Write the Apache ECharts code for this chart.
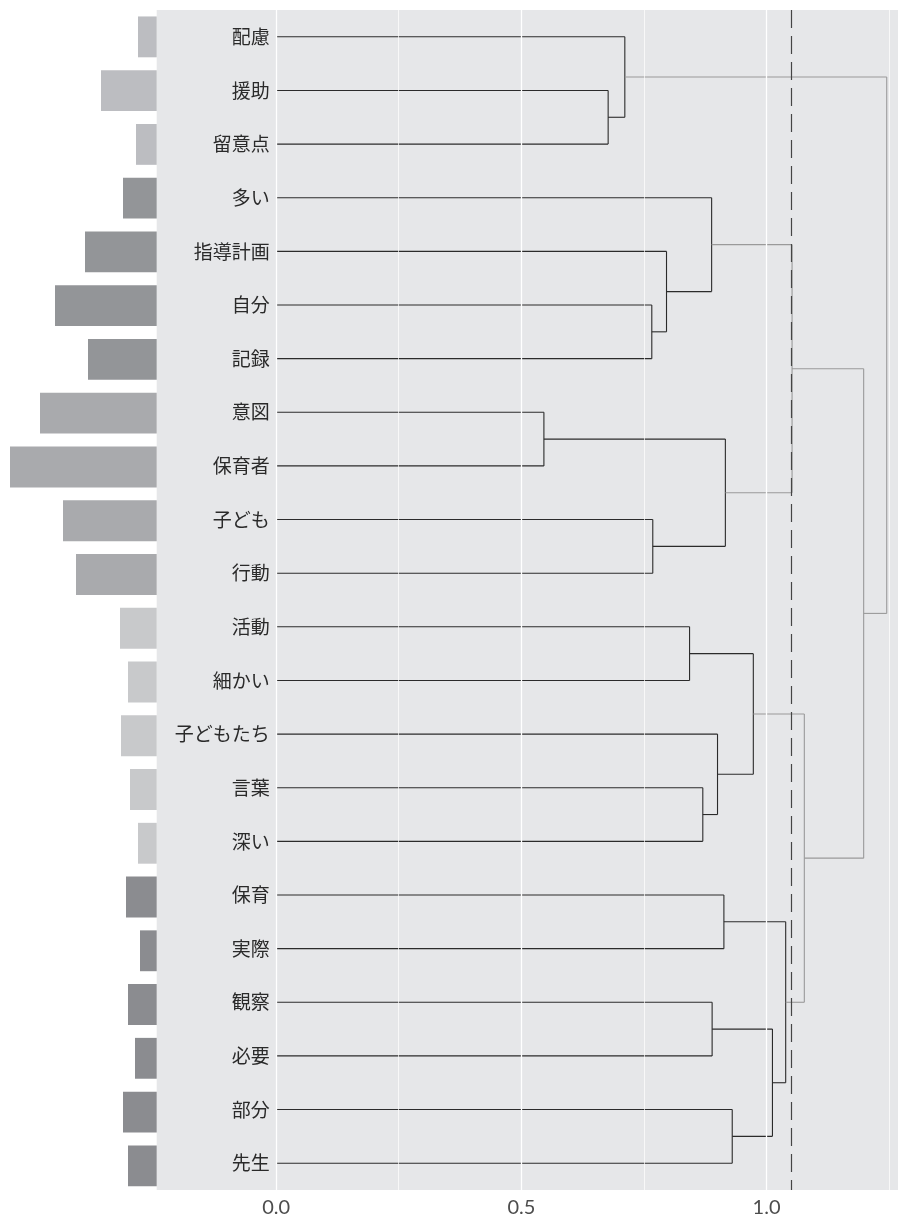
<!DOCTYPE html>
<html>
<head>
<meta charset="utf-8">
<script src="https://cdn.jsdelivr.net/npm/echarts@6/dist/echarts.min.js"></script>
<style>html,body{margin:0;padding:0;background:#fff;}</style>
</head>
<body>
<div id="main" style="width:898px;height:1218px;"></div>
<script type="text/javascript">

// 単語（上から順）
var words = ['配慮', '援助', '留意点', '多い', '指導計画', '自分', '記録', '意図', '保育者', '子ども', '行動',
    '活動', '細かい', '子どもたち', '言葉', '深い', '保育', '実際', '観察', '必要', '部分', '先生'];
// 左の棒（出現頻度の相対値）
var freq = [18.7, 55.7, 20.7, 33.7, 71.7, 101.7, 68.7, 116.7, 146.7, 93.7, 80.7,
    36.7, 28.7, 35.7, 26.7, 18.7, 30.7, 16.7, 28.7, 21.7, 33.7, 28.7];
// クラスター番号
var cluster = [0, 0, 0, 1, 1, 1, 1, 2, 2, 2, 2, 3, 3, 3, 3, 3, 4, 4, 4, 4, 4, 4];
var clusterColors = ['#bcbdc1', '#939598', '#a9aaad', '#c8c9cb', '#8b8c90'];

// hclust形式の併合: 負 = 単語(1始まり), 正 = それ以前の併合番号
var mergeA = [-8, -2, -1, -6, -10, -5, -12, -15, -4, -19, -14, -17, 1, -21, 7, 10, 12, 9, 15, 18, 3];
var mergeB = [-9, -3, 2, -7, -11, 4, -13, -16, 6, -20, 8, -18, 5, -22, 11, 14, 16, 13, 17, 19, 20];
var mergeHeight = [0.546, 0.677, 0.711, 0.766, 0.768, 0.796, 0.843, 0.870, 0.888, 0.889, 0.900,
    0.913, 0.916, 0.930, 0.973, 1.012, 1.039, 1.052, 1.077, 1.198, 1.245];

var cutHeight = 1.046;
var tickLabels = [0, 0.5, 1];
var minorGrid = [0.25, 0.75, 1.25];

var myChart = echarts.init(document.getElementById('main'));

// 樹形図の線分を併合データから組み立てる
var nodeX = [], nodeY = [];
function pos(id) {
    if (id < 0) return [0, -id - 1];
    return [nodeX[id - 1], nodeY[id - 1]];
}
var segs = [];
for (var i = 0; i < mergeHeight.length; i++) {
    var a = pos(mergeA[i]), b = pos(mergeB[i]), h = mergeHeight[i];
    var grey = h > cutHeight ? 1 : 0;
    segs.push([a[0], a[1], h, a[1], grey]);
    segs.push([b[0], b[1], h, b[1], grey]);
    segs.push([h, a[1], h, b[1], grey]);
    nodeX.push(h);
    nodeY.push((a[1] + b[1]) / 2);
}

var barData = [];
for (var j = 0; j < freq.length; j++) {
    barData.push({value: freq[j], itemStyle: {color: clusterColors[cluster[j]]}});
}
var labelData = words.map(function (w, k) { return [-0.013, k]; });

var gridLines = [];
tickLabels.forEach(function (v) { gridLines.push({xAxis: v, lineStyle: {width: 1.3}}); });
minorGrid.forEach(function (v) { gridLines.push({xAxis: v, lineStyle: {width: 0.7}}); });

var option = {
    animation: false,
    grid: [
        {left: 0, width: 156.7, top: 10, bottom: 25.3, show: false},
        {left: 156.7, right: 0, top: 10, bottom: 25.3, show: true, backgroundColor: '#e6e7e9', borderWidth: 0}
    ],
    xAxis: [
        {gridIndex: 0, type: 'value', inverse: true, min: 0, max: 156.7, show: false},
        {
            gridIndex: 1, type: 'value', min: -0.2435, max: 1.268,
            axisLine: {show: false}, axisTick: {show: false}, splitLine: {show: false},
            axisLabel: {
                customValues: tickLabels, margin: 8,
                color: '#4d4d4d', fontSize: 20, fontFamily: 'Lato',
                formatter: function (v) { return v.toFixed(1); }
            }
        }
    ],
    yAxis: [
        {gridIndex: 0, type: 'category', inverse: true, data: words, show: false},
        {gridIndex: 1, type: 'value', inverse: true, min: -0.5, max: 21.5, show: false}
    ],
    series: [
        {
            type: 'bar', xAxisIndex: 0, yAxisIndex: 0,
            data: barData, barCategoryGap: '24%', silent: true
        },
        {
            // 白いグリッド線
            type: 'line', xAxisIndex: 1, yAxisIndex: 1, z: 1,
            data: [[0, 0]], showSymbol: false, lineStyle: {opacity: 0}, silent: true,
            markLine: {
                silent: true, symbol: 'none', label: {show: false},
                lineStyle: {color: '#ffffff', type: 'solid'},
                data: gridLines
            }
        },
        {
            type: 'custom', xAxisIndex: 1, yAxisIndex: 1, z: 2, silent: true,
            data: segs,
            encode: {x: [0, 2], y: [1, 3]},
            renderItem: function (params, api) {
                var p1 = api.coord([api.value(0), api.value(1)]);
                var p2 = api.coord([api.value(2), api.value(3)]);
                return {
                    type: 'line',
                    shape: {x1: p1[0], y1: p1[1], x2: p2[0], y2: p2[1]},
                    style: {stroke: api.value(4) ? '#9a9a9a' : '#2b2b2b', lineWidth: 1.1}
                };
            }
        },
        {
            type: 'custom', xAxisIndex: 1, yAxisIndex: 1, z: 3, silent: true,
            data: labelData,
            renderItem: function (params, api) {
                var p = api.coord([api.value(0), api.value(1)]);
                return {
                    type: 'text', x: p[0], y: p[1],
                    style: {
                        text: words[params.dataIndex], textAlign: 'right', textVerticalAlign: 'middle',
                        fill: '#2a2a2a', fontSize: 19, fontFamily: 'Noto Sans CJK JP'
                    }
                };
            }
        },
        {
            // カット線
            type: 'line', xAxisIndex: 1, yAxisIndex: 1, z: 4,
            data: [[0, 0]], showSymbol: false, lineStyle: {opacity: 0}, silent: true,
            markLine: {
                silent: true, symbol: 'none', label: {show: false},
                lineStyle: {color: '#454545', type: [18, 8], width: 1.2},
                data: [{xAxis: cutHeight}]
            }
        }
    ]
};

myChart.setOption(option);
</script>
</body>
</html>
